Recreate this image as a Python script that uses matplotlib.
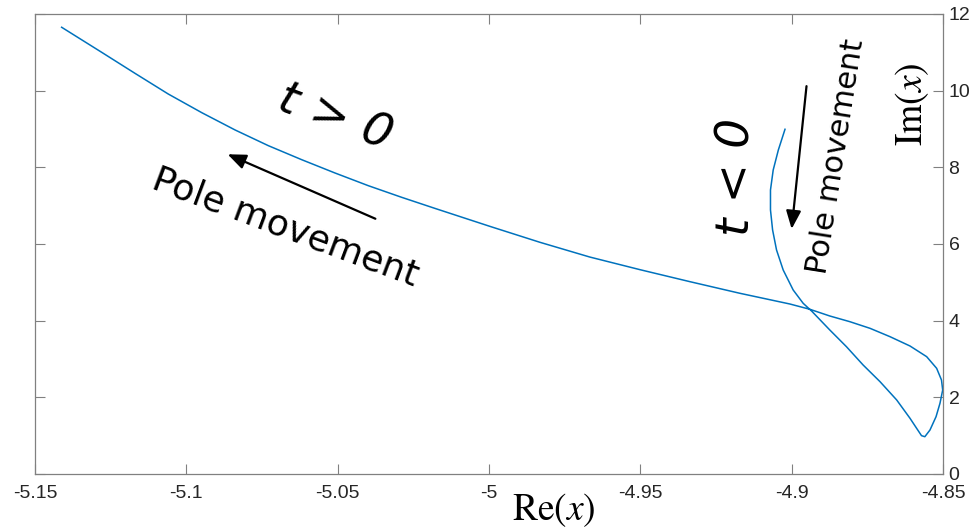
import matplotlib
matplotlib.use("Agg")
import matplotlib.pyplot as plt

# Pole trajectory in the complex plane
re_x = [-5.1412, -5.1280, -5.1170, -5.1060, -5.0949, -5.0839, -5.0729,
        -5.0619, -5.0509, -5.0399, -5.0289, -5.0179, -4.9997, -4.9832,
        -4.9667, -4.9501, -4.9336, -4.9171, -4.9006, -4.8940, -4.8874,
        -4.8808, -4.8741, -4.8675, -4.8609, -4.8554, -4.8521, -4.8505,
        -4.8501, -4.8510, -4.8523, -4.8543, -4.8560, -4.8571, -4.8587,
        -4.8609, -4.8653, -4.8708, -4.8764, -4.8819, -4.8874, -4.8934,
        -4.8962, -4.8995, -4.9028, -4.9050, -4.9063, -4.9070, -4.9070,
        -4.9061, -4.9044, -4.9022]
im_x = [11.654, 11.002, 10.454, 9.914, 9.426, 8.975, 8.565,
        8.200, 7.853, 7.522, 7.219, 6.930, 6.460, 6.045,
        5.660, 5.330, 5.017, 4.714, 4.435, 4.297, 4.122,
        3.974, 3.800, 3.582, 3.339, 3.061, 2.757, 2.452,
        2.191, 1.844, 1.495, 1.148, 0.973, 1.000, 1.190,
        1.453, 1.931, 2.408, 2.844, 3.321, 3.757, 4.250,
        4.453, 4.800, 5.322, 5.844, 6.366, 6.888, 7.409,
        7.931, 8.453, 8.993]

xticks = [-5.15, -5.1, -5.05, -5.0, -4.95, -4.9, -4.85]
xticklabels = ['-5.15', '-5.1', '-5.05', '-5', '-4.95', '-4.9', '-4.85']
yticks = [0, 2, 4, 6, 8, 10, 12]

plt.rcParams['mathtext.fontset'] = 'stix'

W, H = 971, 532
fig = plt.figure(figsize=(W / 100, H / 100), dpi=100)
ax = fig.add_axes([35 / W, 1 - 474 / H, (943 - 35) / W, (474 - 14) / H])

ax.plot(re_x, im_x, color='#0072BD', lw=1.1)

ax.set_xlim(-5.15, -4.85)
ax.set_ylim(0, 12)
ax.set_xticks(xticks)
ax.set_xticklabels(xticklabels)
ax.set_yticks(yticks)
ax.yaxis.tick_right()
ax.tick_params(which='both', direction='in', length=7, width=0.8,
               color='#808080', labelcolor='#262626', labelsize=14,
               top=True, bottom=True, left=True, right=True)
ax.tick_params(axis='x', pad=8)
ax.tick_params(axis='y', pad=4)
for lab in ax.get_xticklabels() + ax.get_yticklabels():
    lab.set_family('Liberation Sans')
for s in ax.spines.values():
    s.set_color('#808080')
    s.set_linewidth(0.9)

# axis labels (serif, as in the original)
fig.text(554 / W, 1 - 510 / H, r'$\mathrm{Re}(x)$', fontsize=27,
         ha='center', va='center', color='black')
fig.text(912 / W, 1 - 104 / H, r'$\mathrm{Im}(x)$', fontsize=27,
         rotation=90, ha='center', va='center', color='black')

# annotations
ax.text(-5.0509, 9.29, 't > 0', fontsize=34, style='italic',
        family='DejaVu Sans', rotation=-20, ha='center', va='center')
ax.text(-5.0674, 6.42, 'Pole movement', fontsize=26,
        family='DejaVu Sans', rotation=-20.5, ha='center', va='center')
ax.annotate('', xy=(-5.0872, 8.37), xytext=(-5.0367, 6.63),
            arrowprops=dict(arrowstyle='-|>,head_length=1.1,head_width=0.45',
                            color='black', lw=1.6))

ax.text(-4.9182, 7.76, 't < 0', fontsize=34, style='italic',
        family='DejaVu Sans', rotation=90, ha='center', va='center')
ax.text(-4.8852, 8.28, 'Pole movement', fontsize=22,
        family='DejaVu Sans', rotation=81, ha='center', va='center')
ax.annotate('', xy=(-4.9001, 6.32), xytext=(-4.8950, 10.19),
            arrowprops=dict(arrowstyle='-|>,head_length=1.1,head_width=0.45',
                            color='black', lw=1.6))

fig.savefig('out.png', dpi=100)
